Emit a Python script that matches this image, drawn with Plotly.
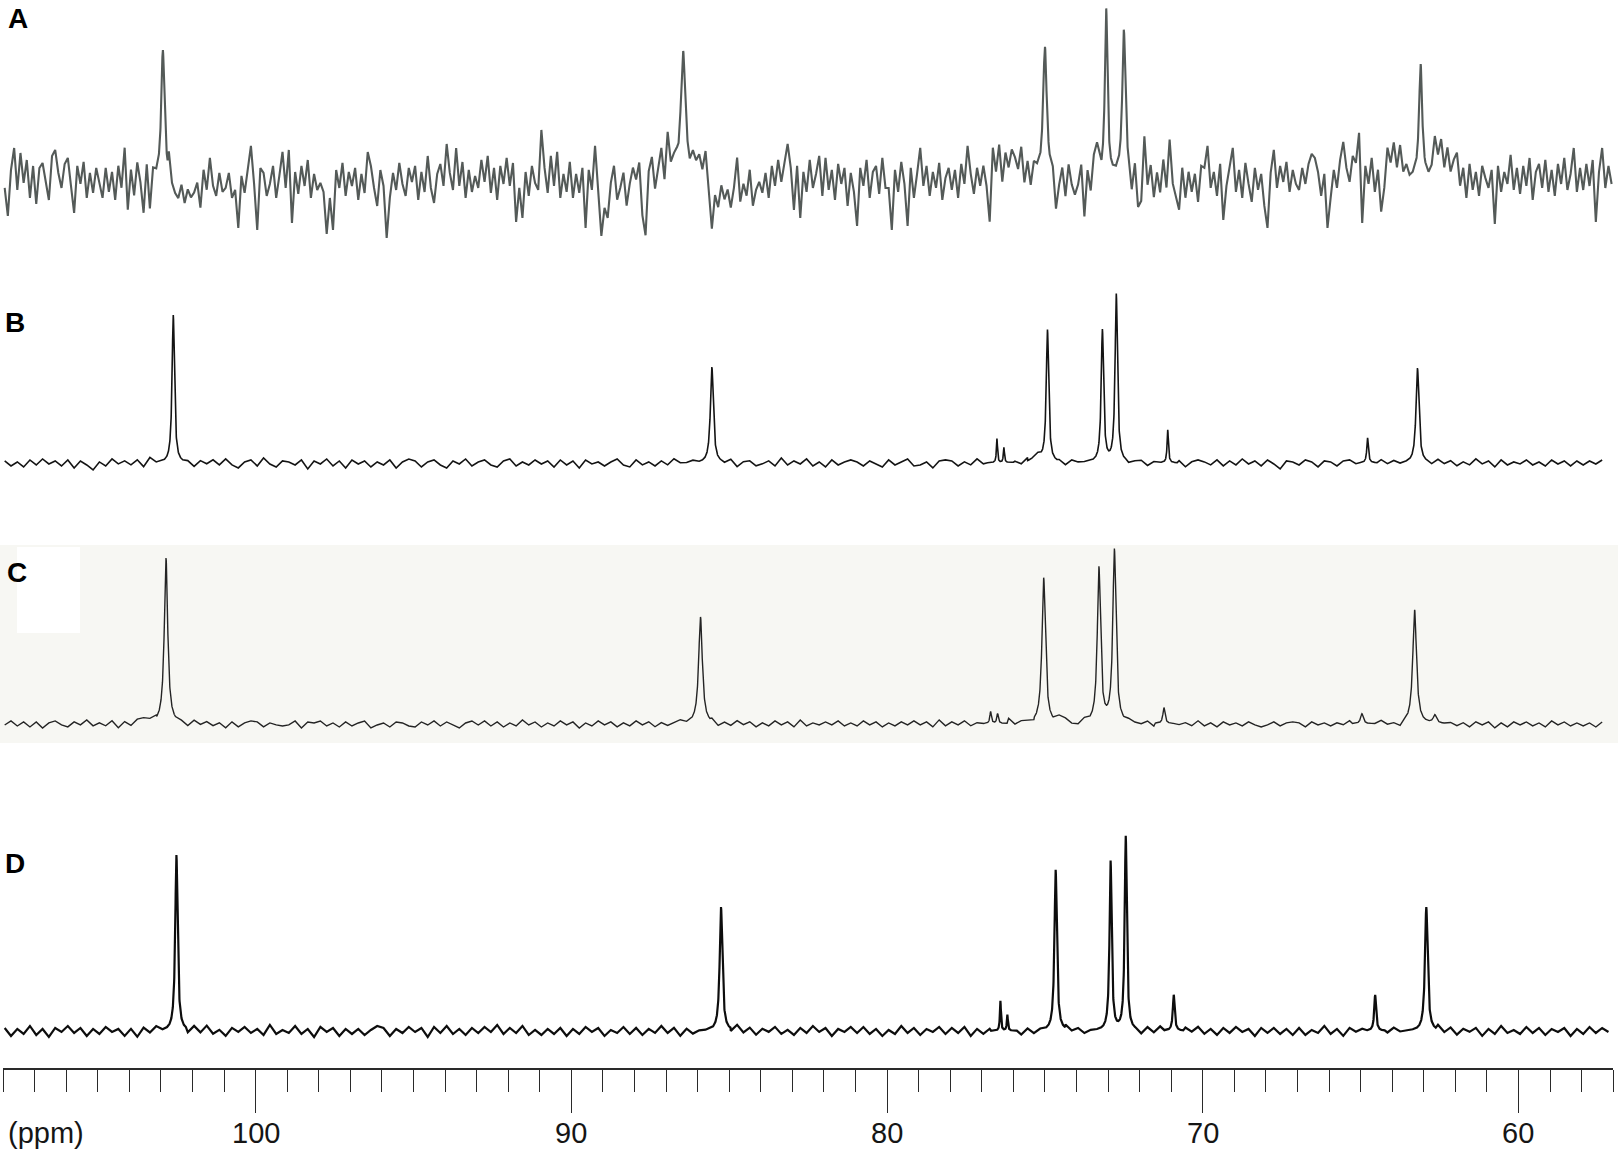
import numpy as np
import plotly.graph_objects as go

# ---------------- data ----------------
panel_labels = ["A", "B", "C", "D"]
tick_values = [100, 90, 80, 70, 60]
tick_labels = ["100", "90", "80", "70", "60"]
axis_unit = "(ppm)"

# peak centres (ppm), heights (intensity, arbitrary units), half widths (ppm)
A_peak_ppm = [102.94, 86.46, 75.00, 73.06, 72.50, 63.10]
A_peak_height = [128, 127, 131, 168, 147, 114]
A_peak_hw = [0.06, 0.09, 0.07, 0.05, 0.06, 0.06]

B_peak_ppm = [102.61, 85.55, 76.52, 76.30, 75.25, 74.92, 73.18, 72.74, 71.11, 64.78, 63.20]
B_peak_height = [148, 96, 24, 15, 8, 132, 132, 168, 33, 25, 95]
B_peak_hw = [0.045, 0.055, 0.02, 0.02, 0.15, 0.045, 0.045, 0.045, 0.025, 0.03, 0.055]

C_peak_ppm = [102.84, 85.91, 76.72, 76.50, 75.04, 73.29, 72.80, 71.23, 64.96, 63.29, 62.65]
C_peak_height = [166, 107, 12, 10, 146, 155, 173, 16, 10, 114, 8]
C_peak_hw = [0.065, 0.07, 0.03, 0.03, 0.065, 0.06, 0.06, 0.04, 0.05, 0.07, 0.06]

D_peak_ppm = [102.51, 85.26, 76.41, 76.19, 74.66, 72.92, 72.44, 70.92, 64.54, 62.92]
D_peak_height = [176, 124, 30, 16, 161, 169, 194, 36, 36, 124]
D_peak_hw = [0.045, 0.05, 0.02, 0.02, 0.045, 0.04, 0.04, 0.035, 0.035, 0.05]

# baseline noise (one row per ppm)
A_noise = [
    [-10, -38, 8, 30, -12, 25, -5, 18, -20, 12],
    [-26, 10, 15, -5, -22, 22, 28, 5, -10, 14],
    [20, -8, -35, 12, -6, 16, -20, 5, -15, 10],
    [-5, -20, 10, -14, 6, -22, 12, -10, 30, -32],
    [8, -18, 15, -5, -36, 12, -33, 6, 0, 5],
    [0, 30, 15, -10, -18, -22, -8, -26, -12, -20],
    [-15, -5, -30, 8, -12, 20, -8, -18, 5, -14],
    [-10, 5, -20, -12, -50, 2, -15, 10, 32, -6],
    [-52, 10, 5, -18, -6, 12, -20, 2, 26, -10],
    [28, -45, 6, -16, 12, -8, 18, -20, 4, -12],
    [-5, -14, -56, -20, -52, 8, -10, 15, -18, 6],
    [-8, 10, -22, 4, -15, 26, 12, -10, -28, 8],
    [-8, -60, -20, 5, -12, 15, -6, -18, 10, -4],
    [12, -22, 6, -14, 22, -10, -25, 4, 14, -8],
    [34, 5, -12, 30, -8, 16, -20, 8, -14, 2],
    [-10, 18, -4, 22, -15, 10, -22, 12, -6, 20],
    [-8, 15, -44, -10, -40, 6, -18, 12, -5, -12],
    [48, 10, -15, 22, -8, 26, -20, 4, -14, 16],
    [-20, 4, -15, 10, -50, 8, -12, 32, -10, -58],
    [-30, -40, -5, 12, -22, -10, 5, -28, -6, 10],
    [-2, 15, -38, -58, 6, 20, -12, 8, 28, -4],
    [42, 10, 14, 8, 0, 0, 0, 0, 18, 12],
    [20, 6, 25, -10, -52, -18, -30, -8, -22, -12],
    [-30, -10, 20, -24, -6, -18, 8, -28, -12, -4],
    [-15, 5, -20, 12, -8, 18, -4, 15, 34, 10],
    [-32, 12, -40, 6, -14, 18, -10, 4, 22, -18],
    [20, -12, 8, -22, 14, -6, 10, -28, 5, -14],
    [-48, 10, -8, 18, -20, 6, 12, -16, 20, -10],
    [-10, -52, 8, -14, 16, -6, -48, 10, -20, 4],
    [30, -8, 12, -18, 6, -10, 15, -22, 0, 10],
    [-12, 8, -20, 14, -6, 32, 4, -16, 10, -8],
    [12, -8, -44, 30, 6, 33, -4, 25, 10, 28],
    [20, 8, 30, -6, 15, -10, 12, 5, 0, 0],
    [0, 0, 2, -36, -10, 8, -20, 12, -8, -18],
    [-8, 12, -40, 6, -15, 20, 30, 10, 0, 0],
    [0, 0, 0, 0, 0, 0, 5, -20, 10, -32],
    [-25, 40, -8, 12, -20, 5, -15, 18, -10, 38],
    [-6, -18, -32, 10, -20, 6, -14, 4, -24, 12],
    [10, 32, -10, 6, -18, 14, -42, -8, 12, 30],
    [-14, 8, -20, 15, -6, -24, 10, -12, 4, -28],
    [-50, 5, 28, -10, 12, -4, 16, -14, 8, -6],
    [-12, 10, -6, 14, 24, 20, 6, -18, 4, -50],
    [-20, 8, -10, 18, 36, 10, -4, 22, 15, 45],
    [-45, 12, -6, 20, -14, 8, -34, -10, 30, 15],
    [35, 10, 32, 5, 12, 0, 0, 0, 0, 0],
    [0, 0, 10, 40, 22, 38, 10, 30, 6, 18],
    [25, -8, 10, -20, 14, -12, 6, -18, 12, 0],
    [-10, 8, -46, 12, -14, 6, -6, 23, -12, 10],
    [-16, 12, -8, 20, -22, 6, 14, -10, 18, -14],
    [8, -18, 14, -6, 20, -12, 4, 30, -14, 10],
    [-12, 14, -8, 18, -44, 6, 30, -10, 12, -6],
]

B_noise = [
    [2, -3, 1, -4, 3], [-2, 4, -1, 2, -3], [3, -5, 2, -2, -7], [1, -3, 4, -1, 2],
    [-2, 3, -4, 5, 0], [0, 0, 2, -3, 1], [-4, 2, -1, 3, -2], [4, -2, -5, 1, 3],
    [-3, 5, -1, -4, 2], [1, -2, 3, -6, 2], [-1, 4, -3, 2, -5], [3, -1, 2, -4, 1],
    [-2, 3, -5, 1, 4], [2, -4, 1, 3, -2], [-5, 2, -1, 4, -3], [1, 3, -2, -4, 2],
    [4, -3, 1, -2, 3], [-1, 2, -4, 3, -2], [2, -5, 3, -1, 1], [-3, 1, 4, -2, -4],
    [3, -2, 1, -3, 2], [-2, 4, 0, 0, 2], [0, 0, -3, 2, -1], [3, -4, 1, 2, -3],
    [-1, 2, -3, 5, -2], [2, -1, 4, -3, 1], [-4, 3, -2, 1, 3], [1, -3, 2, -1, -4],
    [3, -2, 1, 4, -3], [-2, 1, -5, 2, 3], [2, -3, 1, -2, 4], [-1, 0, 0, 2, -3],
    [1, -2, 3, 0, 0], [0, -2, 1, -3, 2], [0, 0, 0, 0, -1], [-2, 0, 3, -2, 1],
    [2, -3, 1, -1, 0], [-3, 2, -4, 1, 3], [1, -2, 3, -3, 2], [-2, 4, -1, 2, -3],
    [3, -1, -6, 2, 1], [-2, 3, 1, -4, 2], [1, -3, 2, 3, -1], [0, 0, -2, 3, -1],
    [2, -1, 0, 0, 0], [0, -2, 3, -1, 2], [-3, 1, -2, 4, -1], [2, -4, 3, -2, 1],
    [-1, 3, -2, 1, -3], [3, -1, 2, -3, 2], [-2, 2, -1, 3, -2],
]

C_noise = [
    [-1, 3, -2, 2, -3], [2, -4, 1, 3, -1], [-3, 2, -1, 4, -2], [1, -2, 3, -4, 2],
    [-2, 4, 5, 3, 2], [0, 0, -2, 1, -3], [3, -1, 2, -2, 1], [-4, 2, -3, 1, 3],
    [2, -3, 1, -1, -2], [-1, 3, -4, 2, 1], [3, -2, 1, -3, 2], [-2, 1, 3, -4, -1],
    [1, -3, 2, 1, -2], [-3, 2, -1, 3, -2], [2, -1, -4, 1, 3], [-1, 3, -2, 2, -3],
    [1, -2, 4, -1, 2], [-3, 1, -2, 3, -1], [2, -4, 1, -2, 3], [-1, 2, -3, 1, -2],
    [3, -1, 2, -3, 1], [-2, 1, 3, 0, 0], [0, -1, 2, -3, 1], [-2, 3, -1, 2, -3],
    [1, -2, 3, -1, 2], [-3, 4, -2, 1, -1], [2, -1, 3, -2, 1], [-2, 3, -1, 2, -3],
    [1, -2, 2, -1, 3], [-1, 2, -3, 4, -2], [2, -1, 3, -2, 1], [3, 0, 0, 2, 5],
    [-1, 2, 1, -2, 0], [0, 0, 6, 4, -1], [-2, 3, 0, 0, 0], [0, 0, -1, 2, 0],
    [-1, 2, -3, 1, -2], [2, -1, 1, -2, 3], [-2, 1, -3, 2, -1], [1, -2, 2, -1, -3],
    [-1, 2, -2, 1, 2], [1, -3, 2, -1, 1], [-2, 1, -1, 3, -2], [1, -2, 0, 3, -1],
    [0, -4, 0, 0, 0], [0, 0, 2, -1, 1], [-2, 1, -3, 2, -1], [2, -4, 1, -3, 2],
    [-1, 2, -2, 1, -3], [3, -1, 2, -2, 1], [-2, 1, -3, 2, -1],
]

D_noise = [
    [3, -5, 2, -3, 5], [-4, 2, -6, 3, -1], [5, -2, 3, -5, 2], [-3, 4, -1, 2, -5],
    [2, -6, 3, -2, 4], [0, 0, -3, 2, -4], [4, -2, 5, -3, 1], [-5, 3, -1, 4, -2],
    [2, -4, 6, -3, 1], [-2, 5, -3, 2, -6], [4, -1, 3, -5, 2], [-3, 2, -4, 1, 5],
    [3, -5, 2, -2, 4], [-1, 3, -6, 4, -2], [5, -3, 2, -4, 3], [-2, 4, -1, 6, -3],
    [3, -2, 5, -4, 1], [-4, 2, -3, 3, -5], [2, -3, 4, -1, 3], [-5, 1, -2, 4, -3],
    [3, -4, 2, -2, 5], [-2, 3, -5, 2, -3], [0, 0, 3, -4, 2], [-3, 5, -2, 3, -4],
    [2, -1, 4, -3, 1], [-4, 3, -2, 5, -1], [3, -5, 2, -1, 4], [-2, 4, -3, 2, -5],
    [1, -3, 5, -2, 3], [-4, 2, -1, 4, -3], [3, -2, 4, -5, 2], [-3, 2, 0, 0, -2],
    [3, -4, 2, -3, 1], [0, 0, -2, 3, -1], [2, -3, 0, 0, 0], [0, 2, -3, 1, 0],
    [-4, 3, -2, 4, -3], [2, -5, 3, -1, 4], [-3, 2, -4, 3, -2], [4, -1, 2, -5, 3],
    [-2, 3, -3, 2, -4], [3, -4, 1, -2, 5], [-3, 2, -5, 3, -1], [2, -3, 0, 0, -2],
    [3, -1, 0, 0, 0], [0, -3, 4, -2, 3], [-4, 2, -1, 3, -5], [2, -3, 5, -2, 1],
    [-3, 4, -2, 3, -4], [2, -1, 3, -5, 2], [-3, 4, -2, 3, -1],
]

trace_start_ppm = [107.95, 107.95, 107.95, 107.95]
trace_end_ppm = [57.0, 57.35, 57.2, 57.0]
noise_step_ppm = [0.1, 0.2, 0.2, 0.2]

# ---------------- styling / layout ----------------
W, H = 1618, 1154
x_range = [108, 57]
x_px = [3.1, 1613.2]               # pixel span of the ppm axis
axis_px = 1069                      # pixel row of the axis line
label_px = 1133                     # pixel row of the tick label centres
# per panel: top px, bottom px, baseline px
panel_box = [(0, 262, 178), (270, 500, 463), (545, 743, 724), (790, 1062, 1031)]
line_colors = ["#545a58", "#141414", "#242424", "#0d0d0d"]
line_widths = [2.1, 1.6, 1.4, 2.2]
peak_window = [0.15, 0.3, 0.3, 0.3]
label_pos = [(17.5, 19), (15.5, 322), (17, 572), (14.5, 863)]


def build(start, step, noise_rows, end, ppm, hgt, hw, win):
    noise = np.array([v for row in noise_rows for v in row], float)
    grid = start - step * np.arange(len(noise))
    keep = grid >= end - 1e-9
    in_win = np.zeros(len(grid), bool)
    fine = []
    for c in ppm:
        in_win |= np.abs(grid - c) < win
        fine.append(np.arange(c - win, c + win, 0.004))
    sel = keep & ~in_win
    fx = np.concatenate(fine)
    fx = fx[(fx <= start) & (fx >= end)]
    x = np.concatenate([grid[sel], fx])
    n = np.concatenate([noise[sel], np.zeros(len(fx))])
    order = np.argsort(-x)
    x, n = x[order], n[order]
    y = n.copy()
    for c, h, w in zip(ppm, hgt, hw):
        y += h * w ** 2 / ((x - c) ** 2 + w ** 2)
    return x, y


series = [
    (A_noise, A_peak_ppm, A_peak_height, A_peak_hw),
    (B_noise, B_peak_ppm, B_peak_height, B_peak_hw),
    (C_noise, C_peak_ppm, C_peak_height, C_peak_hw),
    (D_noise, D_peak_ppm, D_peak_height, D_peak_hw),
]

fig = go.Figure()
layout_axes = {}
for i, (nz, pp, hh, ww) in enumerate(series):
    x, y = build(trace_start_ppm[i], noise_step_ppm[i], nz, trace_end_ppm[i],
                 pp, hh, ww, peak_window[i])
    yname = "y" if i == 0 else f"y{i + 1}"
    fig.add_trace(go.Scatter(x=x, y=y, mode="lines", xaxis="x", yaxis=yname,
                             line=dict(color=line_colors[i], width=line_widths[i]),
                             hoverinfo="skip", showlegend=False))
    top, bot, base = panel_box[i]
    key = "yaxis" if i == 0 else f"yaxis{i + 1}"
    layout_axes[key] = dict(domain=[(H - bot) / H, (H - top) / H],
                            range=[-(bot - base), base - top], visible=False,
                            fixedrange=True, anchor="x", automargin=False)

tick_font = dict(family="Liberation Sans, Arial", size=29, color="#151515")

fig.update_layout(
    width=W, height=H,
    margin=dict(l=0, r=0, t=0, b=0, pad=0, autoexpand=False),
    paper_bgcolor="white", plot_bgcolor="rgba(0,0,0,0)",
    xaxis=dict(domain=[x_px[0] / W, x_px[1] / W], range=x_range,
               anchor="free", position=(H - axis_px) / H, automargin=False,
               showline=True, linecolor="#2a2a2a", linewidth=2,
               ticks="outside", ticklen=43, tickwidth=1.4, tickcolor="#2a2a2a",
               tickmode="array", tickvals=tick_values, showticklabels=False,
               showgrid=False, zeroline=False,
               minor=dict(dtick=1, tick0=0, ticks="outside", ticklen=22,
                          tickwidth=1.4, tickcolor="#2a2a2a", showgrid=False),
               fixedrange=True),
    **layout_axes,
)

# light background of panel C, with the white patch behind its label
fig.add_shape(type="rect", xref="paper", yref="paper", x0=0, x1=1,
              y0=(H - 743) / H, y1=(H - 545) / H, fillcolor="#f7f7f3",
              line=dict(width=0), layer="below")
fig.add_shape(type="rect", xref="paper", yref="paper", x0=17 / W, x1=80 / W,
              y0=(H - 633) / H, y1=(H - 547) / H, fillcolor="#ffffff",
              line=dict(width=0), layer="below")

for lab, (px, py) in zip(panel_labels, label_pos):
    fig.add_annotation(text=f"<b>{lab}</b>", xref="paper", yref="paper",
                       x=px / W, y=(H - py) / H, xanchor="center", yanchor="middle",
                       showarrow=False,
                       font=dict(family="Liberation Sans, Arial", size=28, color="#000"))

# tick labels of the ppm axis
for v, t in zip(tick_values, tick_labels):
    fig.add_annotation(text=t, xref="x", yref="paper", x=v, y=(H - label_px) / H,
                       xanchor="center", yanchor="middle", showarrow=False,
                       font=tick_font)

fig.add_annotation(text=axis_unit, xref="paper", yref="paper",
                   x=6 / W, y=(H - label_px) / H, xanchor="left", yanchor="middle",
                   showarrow=False, font=tick_font)

fig.write_html(
    "out.html",
    config={"displayModeBar": False},
    post_script="document.body.style.margin='0';document.body.style.overflow='hidden';",
)
